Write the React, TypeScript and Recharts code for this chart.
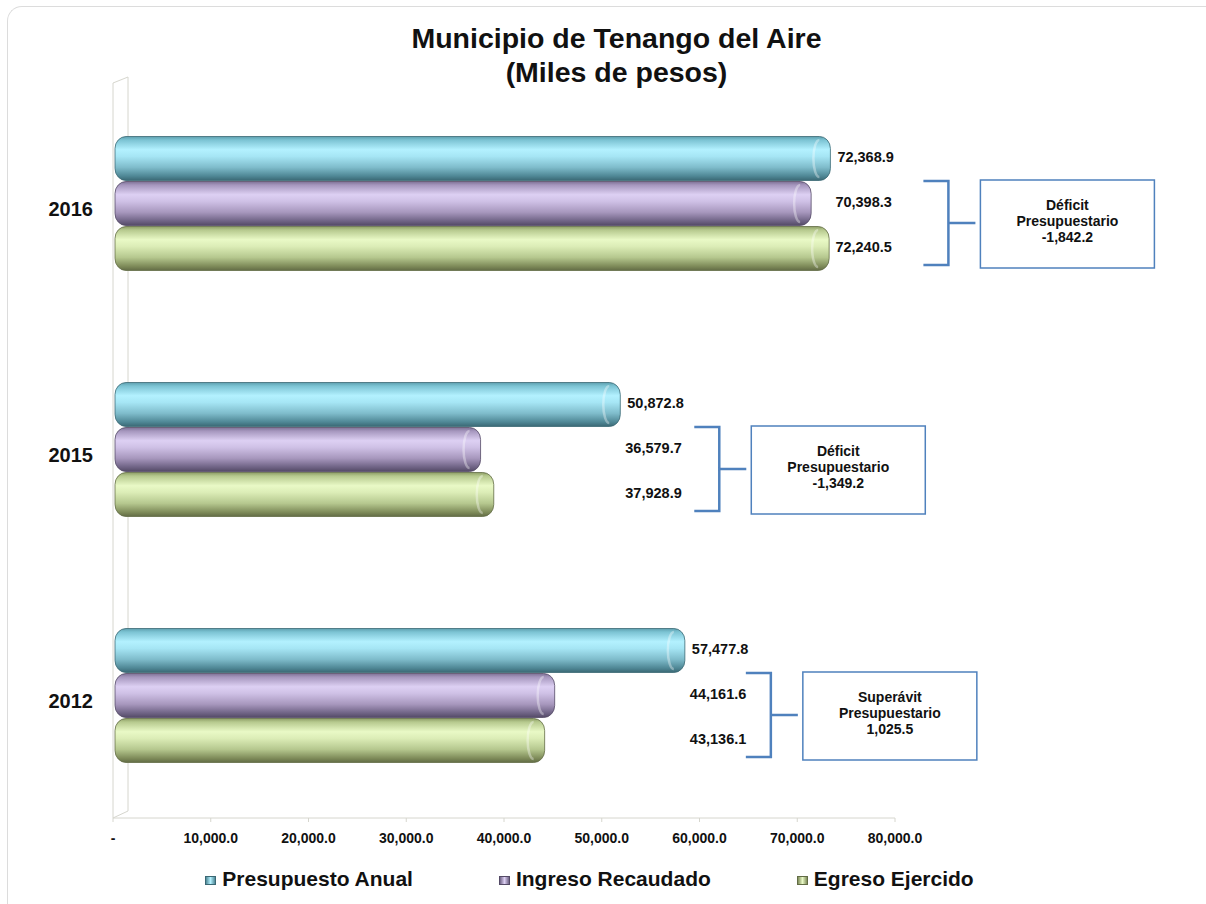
import React from 'react';
import { Bar, BarChart, LabelList, Legend, ReferenceArea, XAxis, YAxis } from 'recharts';

const years = ['2016', '2015', '2012'];
const presupuesto = [72368.9, 50872.8, 57477.8];
const ingreso = [70398.3, 36579.7, 44161.6];
const egreso = [72240.5, 37928.9, 43136.1];
const xTicks = [0, 10000, 20000, 30000, 40000, 50000, 60000, 70000, 80000];
const seriesNames = ['Presupuesto Anual', 'Ingreso Recaudado', 'Egreso Ejercido'];

const data = years.map((year, i) => ({
  year,
  presupuesto: presupuesto[i],
  ingreso: ingreso[i],
  egreso: egreso[i],
}));

const FONT = '"Liberation Sans", Arial, Helvetica, sans-serif';
const BLUE = '#4f81bd';
// small horizontal nudges for the annotation brackets, they were placed by hand
const NOTE_NUDGE = [17, -2, -15];

const fmt = (n: number) =>
  n.toLocaleString('en-US', { minimumFractionDigits: 1, maximumFractionDigits: 1 });

const TONES: Record<string, string[]> = {
  cyan: ['#5d9fae', '#7cc3d3', '#b3f1ff', '#a6e6f5', '#7fbccb', '#4f8795', '#3a6874'],
  purple: ['#7e7196', '#a596bd', '#ddd0f3', '#cfc1e6', '#a797bd', '#6f6385', '#544a66'],
  green: ['#8e9e66', '#b6c98e', '#e9f9c6', '#dcedb7', '#b6c88f', '#7f8c5a', '#626c45'],
};
const STOPS = [0, 0.08, 0.3, 0.45, 0.7, 0.9, 1];

function Tube(props: any) {
  const { x, y, width, height, tone } = props;
  if (!width || width <= 0) return null;
  const c = TONES[tone];
  const x0 = x + 2;
  const x1 = x + width + 10;
  const cx = x1 - 11;
  const ry = height / 2 - 4;
  return (
    <g>
      <rect
        x={x0}
        y={y + 0.5}
        width={x1 - x0}
        height={height - 1}
        rx={11}
        ry={12}
        fill={`url(#body-${tone})`}
        stroke={c[6]}
        strokeWidth={0.8}
      />
      <path
        d={`M${cx},${y + 4} A6,${ry} 0 0 0 ${cx},${y + height - 4}`}
        fill="none"
        stroke="rgba(255,255,255,0.35)"
        strokeWidth={2.5}
      />
    </g>
  );
}

function Wall(props: any) {
  const { x, y, height } = props;
  const d = 15;
  const b = y + height;
  return (
    <path
      d={`M${x},${b} L${x},${y + 3} L${x + d},${y - 3} L${x + d},${b - 7} Z`}
      fill="none"
      stroke="#d6d6ce"
      strokeWidth={1}
    />
  );
}

const valueLabel = (values: number[], gap: number) => (props: any) => {
  const vb = props.viewBox || props;
  const { x, y, width, height } = vb;
  const i = props.index ?? values.indexOf(props.value);
  if (i < 0 || !width) return null;
  const unit = width / values[i];
  const tipX = x + presupuesto[i] * unit + 10;
  return (
    <text
      x={tipX + gap}
      y={y + height / 2 - 2}
      dominantBaseline="central"
      fontFamily={FONT}
      fontWeight="bold"
      fontSize={14.5}
      fill="#111"
    >
      {fmt(values[i])}
    </text>
  );
};

const noteLabel = (props: any) => {
  const vb = props.viewBox || props;
  const { x, y, width } = vb;
  const i = props.index ?? ingreso.indexOf(props.value);
  if (i < 0 || !width) return null;
  const unit = width / ingreso[i];
  const tipX = x + presupuesto[i] * unit + 10;
  const left = tipX + 76 + NOTE_NUDGE[i];
  const vx = left + 25;
  const top = y;
  const bottom = y + 84;
  const mid = y + 42;
  const boxX = vx + 32;
  const boxW = 174;
  const boxH = 88;
  const cy = mid + 1;
  const balance = ingreso[i] - egreso[i];
  const lines = [balance < 0 ? 'Déficit' : 'Superávit', 'Presupuestario', fmt(balance)];
  return (
    <g>
      <path
        d={`M${left},${top} L${vx},${top} L${vx},${bottom} L${left},${bottom} M${vx},${mid} L${vx + 27},${mid}`}
        fill="none"
        stroke={BLUE}
        strokeWidth={2.5}
      />
      <rect x={boxX} y={cy - boxH / 2} width={boxW} height={boxH} fill="#fff" stroke={BLUE} strokeWidth={1.5} />
      {lines.map((t, k) => (
        <text
          key={k}
          x={boxX + boxW / 2}
          y={cy - 19 + k * 16}
          textAnchor="middle"
          dominantBaseline="central"
          fontFamily={FONT}
          fontWeight="bold"
          fontSize={14}
          fill="#111"
        >
          {t}
        </text>
      ))}
    </g>
  );
};

const YearTick = (props: any) => {
  const { x, y, payload } = props;
  return (
    <text x={x} y={y + 6} textAnchor="end" dominantBaseline="central" fontFamily={FONT} fontWeight="bold" fontSize={20} fill="#111">
      {payload.value}
    </text>
  );
};

const AmountTick = (props: any) => {
  const { x, y, payload } = props;
  return (
    <text x={x} y={y + 10} textAnchor="middle" fontFamily={FONT} fontWeight="bold" fontSize={14} fill="#111">
      {payload.value === 0 ? '-' : fmt(payload.value)}
    </text>
  );
};

const MARKERS = ['cyan', 'purple', 'green'];

const renderLegend = () => (
  <div
    style={{
      display: 'flex',
      justifyContent: 'center',
      gap: 86,
      fontFamily: FONT,
      fontWeight: 'bold',
      fontSize: 21,
      color: '#111',
      lineHeight: '24px',
    }}
  >
    {seriesNames.map((name, i) => {
      const c = TONES[MARKERS[i]];
      return (
        <div key={name} style={{ display: 'flex', alignItems: 'center' }}>
          <span
            style={{
              display: 'inline-block',
              width: 11,
              height: 9,
              marginRight: 6,
              marginTop: 2,
              background: `linear-gradient(90deg, ${c[5]}, ${c[2]} 50%, ${c[5]})`,
              border: `1px solid ${c[6]}`,
              boxSizing: 'border-box',
            }}
          />
          {name}
        </div>
      );
    })}
  </div>
);

export default function App() {
  return (
    <div style={{ position: 'absolute', left: 0, top: 0, width: 1206, height: 904, overflow: 'hidden', background: '#fff' }}>
      <div
        style={{
          position: 'absolute',
          left: 7,
          top: 6,
          width: 1199,
          height: 898,
          borderTop: '1px solid #dcdcdc',
          borderLeft: '1px solid #dcdcdc',
          borderTopLeftRadius: 15,
        }}
      />
      <div
        style={{
          position: 'absolute',
          left: 27,
          top: 21,
          width: 1179,
          textAlign: 'center',
          fontFamily: FONT,
          fontWeight: 'bold',
          fontSize: 28.5,
          lineHeight: '34px',
          color: '#111',
        }}
      >
        Municipio de Tenango del Aire
        <br />
        (Miles de pesos)
      </div>
      <div style={{ position: 'absolute', left: 0, top: 0 }}>
        <BarChart
          width={1206}
          height={904}
          data={data}
          layout="vertical"
          barGap={0}
          margin={{ top: 80, right: 311, bottom: 56, left: 13 }}
        >
          <defs>
            {Object.keys(TONES).map((tone) => (
              <linearGradient key={tone} id={`body-${tone}`} x1="0" y1="0" x2="0" y2="1">
                {STOPS.map((s, k) => (
                  <stop key={k} offset={s} stopColor={TONES[tone][k]} />
                ))}
              </linearGradient>
            ))}
          </defs>
          <XAxis
            type="number"
            domain={[0, 80000]}
            ticks={xTicks}
            height={30}
            axisLine={{ stroke: '#d6d6ce' }}
            tickLine={{ stroke: '#d6d6ce' }}
            tickSize={4}
            tickMargin={11}
            tick={<AmountTick />}
            interval={0}
          />
          <YAxis
            type="category"
            dataKey="year"
            width={100}
            axisLine={false}
            tickLine={false}
            tickSize={0}
            tickMargin={20}
            tick={<YearTick />}
          />
          <ReferenceArea x1={0} x2={0} ifOverflow="visible" shape={(p: any) => <Wall {...p} />} />
          <Legend verticalAlign="middle" align="center" layout="horizontal" content={renderLegend} wrapperStyle={{ top: 867, left: 0, width: 1179 }} />
          <Bar dataKey="presupuesto" name={seriesNames[0]} barSize={45} isAnimationActive={false} shape={(p: any) => <Tube {...p} tone="cyan" />}>
            <LabelList dataKey="presupuesto" content={valueLabel(presupuesto, 7)} />
          </Bar>
          <Bar dataKey="ingreso" name={seriesNames[1]} barSize={45} isAnimationActive={false} shape={(p: any) => <Tube {...p} tone="purple" />}>
            <LabelList dataKey="ingreso" content={valueLabel(ingreso, 5)} />
            <LabelList dataKey="ingreso" content={noteLabel} />
          </Bar>
          <Bar dataKey="egreso" name={seriesNames[2]} barSize={45} isAnimationActive={false} shape={(p: any) => <Tube {...p} tone="green" />}>
            <LabelList dataKey="egreso" content={valueLabel(egreso, 5)} />
          </Bar>
        </BarChart>
      </div>
    </div>
  );
}
